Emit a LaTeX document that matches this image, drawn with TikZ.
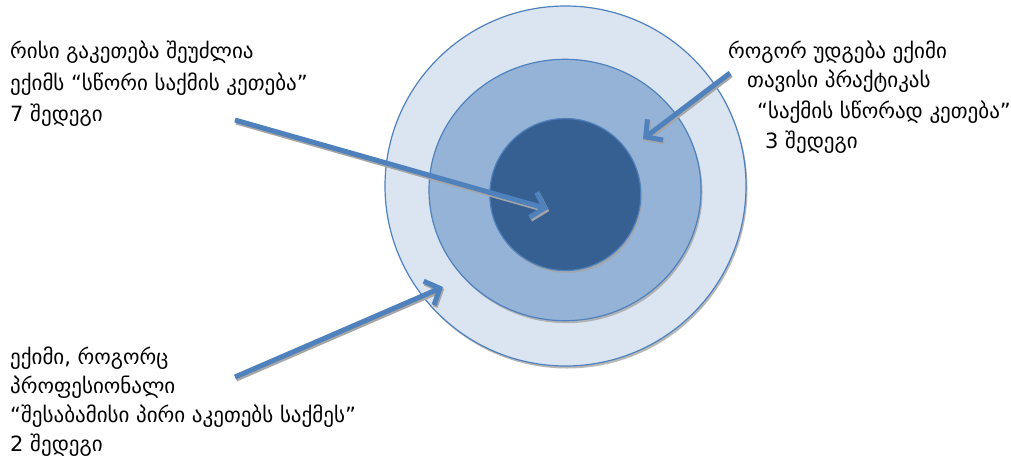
\documentclass[tikz,border=0pt]{standalone}
\usepackage{fontspec}
\setmainfont{DejaVu Sans}
\usetikzlibrary{arrows.meta,shadows}
\definecolor{ringA}{HTML}{DBE5F1}
\definecolor{ringB}{HTML}{95B3D7}
\definecolor{ringC}{HTML}{366092}
\definecolor{edgeblue}{HTML}{4F81BD}
\definecolor{shadowgray}{HTML}{A6A6A6}
\tikzset{
  ring/.style={draw=edgeblue, line width=1.2pt, drop shadow={shadow xshift=1.5pt, shadow yshift=-2.5pt, fill=shadowgray, opacity=0.8}},
  arr/.style={draw=edgeblue, line width=5pt, -{Straight Barb[length=12pt,width=26pt]}},
  arrshadow/.style={draw=shadowgray, line width=5pt, -{Straight Barb[length=12pt,width=26pt]}},
  lbl/.style={anchor=base west, inner sep=0pt, font=\fontsize{21}{24}\selectfont},
}
\begin{document}
\begin{tikzpicture}[x=1pt,y=-1pt]
\useasboundingbox (0,0) rectangle (1011,459);
\path[ring, fill=ringA] (565.5,186) ellipse [x radius=180.5, y radius=180];
\path[ring, fill=ringB] (565,190) ellipse [x radius=136, y radius=130.7];
\path[ring, fill=ringC] (565.3,194.5) ellipse [x radius=75.5, y radius=76];
\coordinate (s1) at (235,120); \coordinate (e1) at (548,209);
\coordinate (s2) at (730,73);  \coordinate (e2) at (643,139);
\coordinate (s3) at (235,377); \coordinate (e3) at (443,287);
\foreach \s/\e in {s1/e1,s2/e2,s3/e3}{
  \draw[arrshadow, transform canvas={shift={(1.2pt,-2pt)}}] (\s) -- (\e);
  \draw[arr] (\s) -- (\e);
}
\node[lbl] (a1) at (10,58) {რისი გაკეთება შეუძლია};
\node[lbl] (a2) at (10,90) {ექიმს “სწორი საქმის კეთება”};
\node[lbl] (a3) at (10,121) {7 შედეგი};
\node[lbl] (b1) at (728,58) {როგორ უდგება ექიმი};
\node[lbl] (b2) at (747,87) {თავისი პრაქტიკას};
\node[lbl] (b3) at (757,118) {“საქმის სწორად კეთება”};
\node[lbl] (b4) at (765,148) {3 შედეგი};
\node[lbl] (c1) at (10,364) {ექიმი, როგორც};
\node[lbl] (c2) at (10,393) {პროფესიონალი};
\node[lbl] (c3) at (10,422) {“შესაბამისი პირი აკეთებს საქმეს”};
\node[lbl] (c4) at (10,451) {2 შედეგი};
\end{tikzpicture}
\end{document}
